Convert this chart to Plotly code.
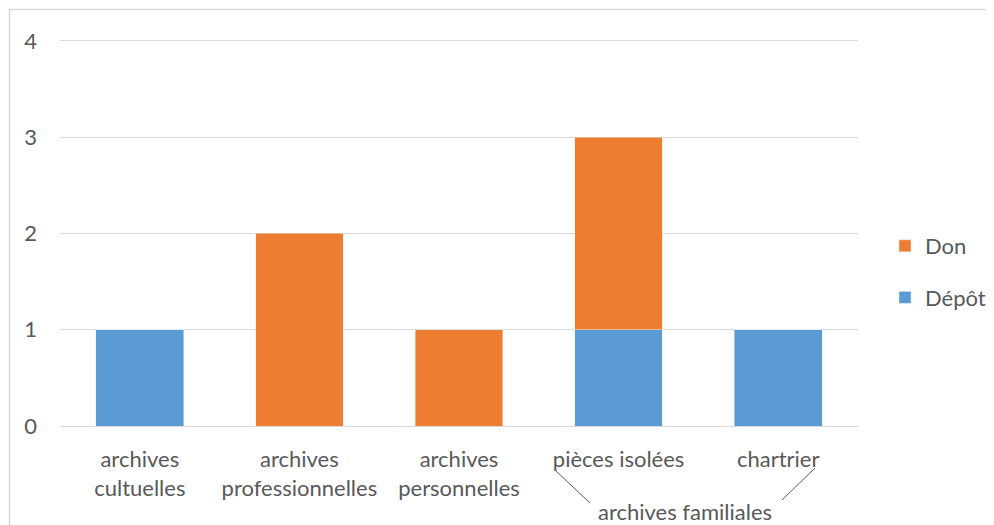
import plotly.graph_objects as go

categories = ["archives<br>cultuelles", "archives<br>professionnelles", "archives<br>personnelles",
              "pièces isolées", "chartrier"]
depot = [1, 0, 0, 1, 1]
don = [0, 2, 1, 2, 0]
group_label = "archives familiales"
y_ticks = [0, 1, 2, 3, 4]

BLUE = "#5B9BD5"
ORANGE = "#ED7D31"
TXT = "#595959"
FONT = "Lato"
FS = 22

fig = go.Figure()
fig.add_trace(go.Bar(x=categories, y=depot, name="Dépôt", marker_color=BLUE,
                     legendgroup="a", legendrank=2))
fig.add_trace(go.Bar(x=categories, y=don, name="Don", marker_color=ORANGE,
                     legendgroup="b", legendrank=1))

# viewport 994x525, page body offset 8px
OFF = 8
VW, VH = 994, 525
PL, PR, PT, PB = 60, 858, 39, 426   # plot area in viewport pixels
pw, ph = PR - PL, PB - PT
FW, FH = VW - 2 * OFF, VH - OFF

def px(x):
    return (x - PL) / pw

def py(y):
    return (PB - y) / ph

fig.update_layout(
    width=FW, height=FH,
    margin=dict(l=PL - OFF, r=OFF + FW - PR, t=PT - OFF, b=OFF + FH - PB, autoexpand=False),
    barmode="stack", bargap=0.45,
    plot_bgcolor="white", paper_bgcolor="white",
    font=dict(family=FONT, size=FS, color=TXT),
    showlegend=True,
    legend=dict(traceorder="grouped", tracegroupgap=20,
                x=px(885), xanchor="left", y=py(272), yanchor="middle",
                font=dict(size=FS, color=TXT)),
    xaxis=dict(showgrid=False, showline=True, linecolor="#D9D9D9", linewidth=1,
               ticks="", tickfont=dict(size=FS, color=TXT), ticklabelstandoff=14),
    yaxis=dict(range=[0, 4.02], tickvals=y_ticks, showgrid=True, gridcolor="#D9D9D9",
               gridwidth=1, zeroline=False, showline=False, ticks="",
               tickfont=dict(size=FS, color=TXT), ticklabelstandoff=22),
    shapes=[
        dict(type="line", xref="paper", yref="paper",
             x0=px(9), x1=px(1100), y0=py(9.5), y1=py(9.5),
             line=dict(color="#D9D9D9", width=1.5)),
        dict(type="line", xref="paper", yref="paper",
             x0=px(9.5), x1=px(9.5), y0=py(9), y1=py(560),
             line=dict(color="#D9D9D9", width=1.5)),
        dict(type="line", xref="paper", yref="paper",
             x0=px(556), y0=py(471), x1=px(590), y1=py(503),
             line=dict(color=TXT, width=1)),
        dict(type="line", xref="paper", yref="paper",
             x0=px(815), y0=py(468), x1=px(782), y1=py(500),
             line=dict(color=TXT, width=1)),
    ],
    annotations=[
        dict(text=group_label, xref="paper", yref="paper", x=px(685), y=py(511),
             xanchor="center", yanchor="middle", showarrow=False,
             font=dict(size=FS, color=TXT)),
    ],
)

fig.write_html("out.html")
